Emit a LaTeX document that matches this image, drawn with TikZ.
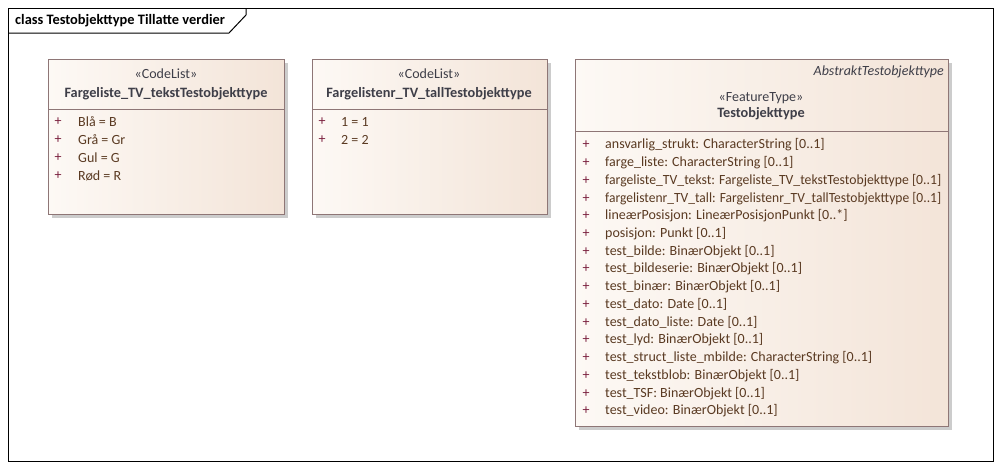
\documentclass[tikz,border=0pt]{standalone}
\usepackage{fontspec}
\setmainfont{Carlito}
\usetikzlibrary{shadows}
\definecolor{boxline}{HTML}{8E7676}
\definecolor{fillL}{HTML}{FDF9F5}
\definecolor{fillR}{HTML}{F3E4D8}
\definecolor{headtxt}{HTML}{3E3E48}
\definecolor{attrtxt}{HTML}{5A3A22}
\definecolor{plustxt}{HTML}{7A1F3D}
\tikzset{
  umlbox/.style={draw=boxline, line width=0.9pt, left color=fillL, right color=fillR, inner sep=0pt, anchor=north west,
    drop shadow={shadow xshift=4pt, shadow yshift=-4pt, fill=black!20, opacity=1}},
  divider/.style={draw=boxline, line width=0.9pt},
  stereo/.style={font=\fontsize{14}{16}\selectfont, text=headtxt, inner sep=0pt},
  cname/.style={font=\fontsize{14.3}{16}\selectfont\bfseries, text=headtxt, inner sep=0pt},
  attr/.style={font=\fontsize{14}{16}\selectfont, text=attrtxt, inner sep=0pt, anchor=west},
  plus/.style={font=\fontsize{14}{16}\selectfont, text=plustxt, inner sep=0pt, anchor=center},
  frame/.style={draw=black, line width=1pt},
}
\newcommand{\squeeze}[1]{\resizebox{336pt}{\height}{#1}}
\begin{document}
\begin{tikzpicture}[x=1pt,y=-1pt]
\useasboundingbox (0,0) rectangle (1002,469);
% outer frame
\draw[frame] (8,8) rectangle (993,461);
\draw[frame] (8,33) -- (229,33) -- (246,15) -- (246,8);
\node[anchor=west, inner sep=0pt, font=\fontsize{14.4}{16}\selectfont\bfseries] (title) at (15,21) {class Testobjekttype Tillatte verdier};

% box 1
\node[umlbox, minimum width=236pt, minimum height=155pt] (b1) at (48,59) {};
\draw[divider] (48,109) -- (284,109);
\node[stereo] (b1s) at (166,74) {«CodeList»};
\node[cname] (b1n) at (166,94) {Fargeliste\_TV\_tekstTestobjekttype};
\foreach \i/\t in {0/{Blå = B},1/{Grå = Gr},2/{Gul = G},3/{Rød = R}}{
  \node[plus] (b1p\i) at (58,{122+18*\i}) {+};
  \node[attr] (b1a\i) at (78,{122+18*\i}) {\t};
}

% box 2
\node[umlbox, minimum width=235pt, minimum height=155pt] (b2) at (312,59) {};
\draw[divider] (312,109) -- (547,109);
\node[stereo] (b2s) at (429,74) {«CodeList»};
\node[cname] (b2n) at (429,94) {Fargelistenr\_TV\_tallTestobjekttype};
\foreach \i/\t in {0/{1 = 1},1/{2 = 2}}{
  \node[plus] (b2p\i) at (322,{122+18*\i}) {+};
  \node[attr] (b2a\i) at (341,{122+18*\i}) {\t};
}

% box 3
\node[umlbox, minimum width=373pt, minimum height=367pt] (b3) at (575,59) {};
\draw[divider] (575,131) -- (948,131);
\node[anchor=east, inner sep=0pt, font=\fontsize{14}{16}\selectfont\itshape, text=headtxt] (b3abs) at (944,72) {AbstraktTestobjekttype};
\node[stereo] (b3s) at (761,98) {«FeatureType»};
\node[cname] (b3n) at (761,114) {Testobjekttype};
\foreach \i/\t in {
 0/{ansvarlig\_strukt: CharacterString [0..1]},
 1/{farge\_liste: CharacterString [0..1]},
 2/{\squeeze{fargeliste\_TV\_tekst: Fargeliste\_TV\_tekstTestobjekttype [0..1]}},
 3/{\squeeze{fargelistenr\_TV\_tall: Fargelistenr\_TV\_tallTestobjekttype [0..1]}},
 4/{lineærPosisjon: LineærPosisjonPunkt [0..*]},
 5/{posisjon: Punkt [0..1]},
 6/{test\_bilde: BinærObjekt [0..1]},
 7/{test\_bildeserie: BinærObjekt [0..1]},
 8/{test\_binær: BinærObjekt [0..1]},
 9/{test\_dato: Date [0..1]},
 10/{test\_dato\_liste: Date [0..1]},
 11/{test\_lyd: BinærObjekt [0..1]},
 12/{test\_struct\_liste\_mbilde: CharacterString [0..1]},
 13/{test\_tekstblob: BinærObjekt [0..1]},
 14/{test\_TSF: BinærObjekt [0..1]},
 15/{test\_video: BinærObjekt [0..1]}}{
  \node[plus] (b3p\i) at (586,{145+17.73*\i}) {+};
  \node[attr] (b3a\i) at (605,{145+17.73*\i}) {\t};
}
\end{tikzpicture}
\end{document}
